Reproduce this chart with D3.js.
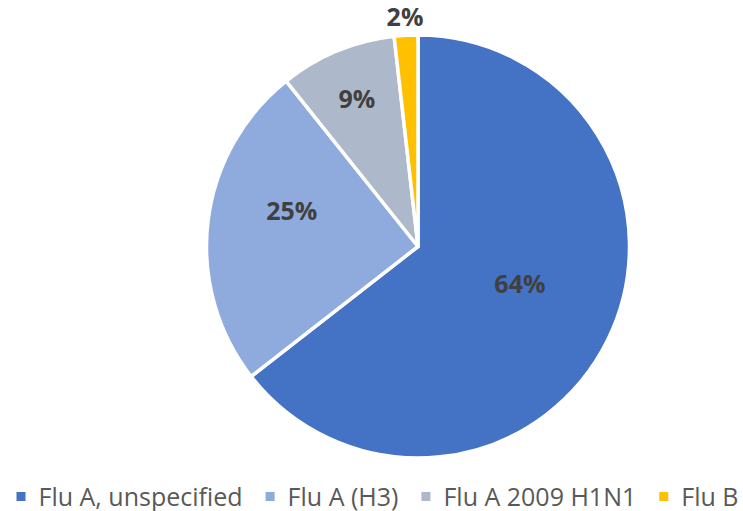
<!DOCTYPE html>
<html>
<head>
<meta charset="utf-8">
<script src="https://cdn.jsdelivr.net/npm/d3@7"></script>
<style>
	body { margin: 0; background: #fff; }
	svg { display: block; }
	.label { font-family: "Open Sans", sans-serif; font-weight: bold; font-size: 25px; fill: #404040; }
	.legend text { font-family: "Open Sans", sans-serif; font-size: 25px; fill: #595959; }
</style>
</head>
<body>
<script>
var SIZE = {
	width: 743,
	height: 511
};

var categories = ['Flu A, unspecified', 'Flu A (H3)', 'Flu A 2009 H1N1', 'Flu B'];
var shares = [64.4, 24.8, 8.9, 1.8];
var colors = ['#4472C4', '#8FAADC', '#ADB9CA', '#FFC000'];

// where each label sits: fraction of the radius, plus a small nudge
var LABEL_RADIUS = [0.51, 0.62, 0.755, 1.085];
var LABEL_NUDGE = [[5, -10], [4, -20], [0, 0], [0, 0]];

var PIE = { cx: 418, cy: 246.5, r: 211.5 };

var svg = d3.select('body')
	.append('svg')
	.attr('width', SIZE.width)
	.attr('height', SIZE.height);

var total = d3.sum(shares);
var slices = d3.pie()
	.sort(null)
	.value(function (d) { return d; })(shares);

var arc = d3.arc()
	.innerRadius(0)
	.outerRadius(PIE.r);

var g = svg.append('g')
	.attr('transform', 'translate(' + PIE.cx + ',' + PIE.cy + ')');

g.selectAll('path')
	.data(slices)
	.enter()
	.append('path')
	.attr('d', arc)
	.attr('fill', function (d, i) { return colors[i]; })
	.attr('stroke', '#fff')
	.attr('stroke-width', 3.5)
	.attr('stroke-linejoin', 'round');

g.selectAll('text.label')
	.data(slices)
	.enter()
	.append('text')
	.classed('label', true)
	.attr('text-anchor', 'middle')
	.attr('dy', '0.36em')
	.attr('transform', function (d, i) {
		var rr = PIE.r * LABEL_RADIUS[i];
		var c = d3.arc().innerRadius(rr).outerRadius(rr).centroid(d);
		return 'translate(' + (c[0] + LABEL_NUDGE[i][0]) + ',' + (c[1] + LABEL_NUDGE[i][1]) + ')';
	})
	.text(function (d) { return Math.round(d.value / total * 100) + '%'; });

// legend along the bottom
var legend = svg.append('g').classed('legend', true);
var items = legend.selectAll('g')
	.data(categories)
	.enter()
	.append('g');

items.append('rect')
	.attr('x', 0)
	.attr('y', -9)
	.attr('width', 9)
	.attr('height', 9)
	.attr('fill', function (d, i) { return colors[i]; });

items.append('text')
	.attr('x', 22)
	.attr('y', 0)
	.attr('dy', '0.36em')
	.attr('transform', 'translate(0,-4.5)')
	.text(function (d) { return d; });

var x = 0;
items.each(function () {
	var item = d3.select(this);
	var w = 22 + item.select('text').node().getComputedTextLength();
	item.attr('transform', 'translate(' + x + ',501)');
	x += w + 23;
});
var legendWidth = x - 23;
legend.attr('transform', 'translate(' + (377.5 - legendWidth / 2) + ',0)');
</script>
</body>
</html>
